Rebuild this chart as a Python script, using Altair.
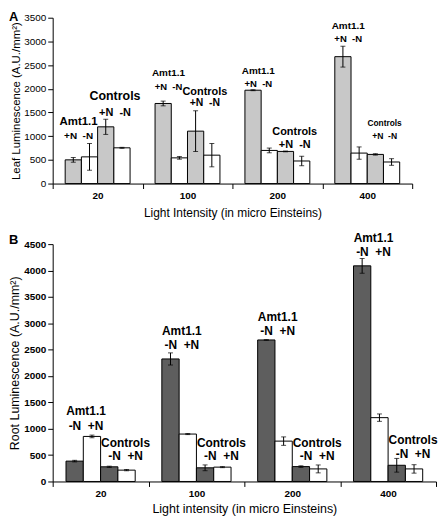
import altair as alt
import pandas as pd

light = ["20", "100", "200", "400"]
series = ["s1", "s2", "s3", "s4"]

# Panel A (leaf): per light level, bars = Amt1.1 +N, Amt1.1 -N, Controls +N, Controls -N
leaf_values = [[500, 563, 1197, 754], [1690, 542, 1106, 599], [1970, 699, 678, 476], [2678, 643, 615, 455]]
leaf_errors = [[50, 282, 160, 10], [50, 28, 430, 246], [10, 50, 8, 100], [220, 130, 15, 70]]
leaf_ticks = [0, 500, 1000, 1500, 2000, 2500, 3000, 3500]

# Panel B (root): per light level, bars = Amt1.1 -N, Amt1.1 +N, Controls -N, Controls +N
root_values = [[386, 854, 278, 215], [2323, 899, 259, 272], [2683, 765, 282, 238], [4088, 1210, 307, 238]]
root_errors = [[15, 25, 12, 12], [115, 10, 55, 10], [5, 80, 15, 75], [140, 70, 130, 80]]
root_ticks = [0, 500, 1000, 1500, 2000, 2500, 3000, 3500, 4000, 4500]

SP = "\u00a0\u00a0"
# annotation texts
leaf_ann_light = ["20", "20", "20", "20", "100", "100", "100", "100", "200", "200", "200", "200", "400", "400", "400", "400"]
leaf_ann_kind = ["amt", "amt", "ctrl", "ctrl"] * 4
leaf_ann_text = ["Amt1.1", "+N" + SP + "-N", "Controls", "+N" + SP + "-N"] * 4
leaf_ann_y = [1306, 1006, 1844, 1481, 2333, 2040, 1935, 1704, 2368, 2096, 1090, 817, 3332, 3060, 1278, 1006]
leaf_ann_size = [11.5, 10, 12.5, 11, 10, 9.5, 11, 10.5, 10, 9.6, 11, 11, 10, 9.6, 8.4, 8.6]

root_ann_light = leaf_ann_light
root_ann_kind = leaf_ann_kind
root_ann_text = ["Amt1.1", "-N" + SP + "+N", "Controls", "-N" + SP + "+N"] * 4
root_ann_y = [1342, 1060, 734, 484, 2843, 2579, 734, 490, 3125, 2843, 734, 490, 4613, 4349, 791, 527]
root_ann_size = [12] * 16

FONT = "Liberation Sans"


def make_panel(values, errors, fills, ticks, ann, dx_amt, dx_ctrl, width, height,
               xtitle, ytitle, ytitle_size, xtitle_size, xtitle_pad, ylabel_weight, letter, letter_y):
    rows = []
    for gi, g in enumerate(light):
        for si, s in enumerate(series):
            rows.append({"light": g, "series": s, "value": values[gi][si], "err": errors[gi][si]})
    df = pd.DataFrame(rows)

    X = alt.X("light:N", scale=alt.Scale(domain=light, paddingInner=0, paddingOuter=0),
              axis=alt.Axis(tickBand="extent", labelAngle=0, tickSize=5, labelPadding=2,
                            labelFontSize=10, labelFontWeight="bold", labelFont=FONT,
                            title=xtitle, titleFont=FONT, titleFontSize=xtitle_size,
                            titleFontWeight="normal", titlePadding=xtitle_pad,
                            domainColor="black", tickColor="black", labelColor="black",
                            titleColor="black"))
    XO = alt.XOffset("series:N", scale=alt.Scale(domain=series, paddingInner=0, paddingOuter=0.77))
    yaxis = alt.Axis(values=ticks, format="d", labelOverlap=False, grid=False, tickSize=5,
                     labelPadding=2, labelFontSize=10,
                     labelFont=FONT, labelFontWeight=ylabel_weight, title=ytitle, titleFont=FONT,
                     titleFontSize=ytitle_size, titleFontWeight="normal", titlePadding=2,
                     domainColor="black", tickColor="black", labelColor="black", titleColor="black")
    yscale = alt.Scale(domain=[ticks[0], ticks[-1]], nice=False)

    def Y(field):
        return alt.Y(field, scale=yscale, axis=yaxis)

    base = alt.Chart(df).transform_calculate(lo="datum.value - datum.err", hi="datum.value + datum.err")
    bars = base.mark_bar(stroke="black", strokeWidth=1).encode(
        x=X, xOffset=XO, y=Y("value:Q"),
        color=alt.Color("series:N", scale=alt.Scale(domain=series, range=fills), legend=None),
    )
    rules = base.mark_rule(color="black", strokeWidth=1).encode(
        x=X, xOffset=XO, y=Y("lo:Q"), y2="hi:Q")
    cap_lo = base.mark_tick(color="black", thickness=1, size=5).encode(
        x=X, xOffset=XO, y=Y("lo:Q"))
    cap_hi = base.mark_tick(color="black", thickness=1, size=5).encode(
        x=X, xOffset=XO, y=Y("hi:Q"))

    adf = pd.DataFrame(ann)
    amt = alt.Chart(adf[adf["kind"] == "amt"].assign(series="s2")).mark_text(
        font=FONT, fontWeight="bold", color="black", baseline="middle", align="center", dx=dx_amt
    ).encode(x=X, xOffset=XO, y=Y("y:Q"), text="text:N",
             size=alt.Size("size:Q", scale=None))
    ctrl = alt.Chart(adf[adf["kind"] == "ctrl"].assign(series="s4")).mark_text(
        font=FONT, fontWeight="bold", color="black", baseline="middle", align="center", dx=dx_ctrl
    ).encode(x=X, xOffset=XO, y=Y("y:Q"), text="text:N",
             size=alt.Size("size:Q", scale=None))
    let = alt.Chart(pd.DataFrame({"letter": [letter]})).mark_text(
        font=FONT, fontWeight="bold", fontSize=13, color="black", align="left", baseline="middle"
    ).encode(x=alt.value(-44), y=alt.value(letter_y), text="letter:N")

    return alt.layer(bars, rules, cap_lo, cap_hi, amt, ctrl, let).properties(width=width, height=height)


annA = {"light": leaf_ann_light, "kind": leaf_ann_kind, "text": leaf_ann_text, "y": leaf_ann_y, "size": leaf_ann_size}
annB = {"light": root_ann_light, "kind": root_ann_kind, "text": root_ann_text, "y": root_ann_y, "size": root_ann_size}

pA = make_panel(leaf_values, leaf_errors, ["#c8c8c8", "white", "#c8c8c8", "white"], leaf_ticks, annA,
                -11, -7, 362, 167, "Light Intensity (in micro Einsteins)",
                "Leaf Luminescence (A.U./mm²)", 11.5, 12, 7, "normal", "A", -1)
pB = make_panel(root_values, root_errors, ["#5e5e5e", "white", "#5e5e5e", "white"], root_ticks, annB,
                -6, -1, 386, 239, "Light intensity (in micro Einsteins)",
                "Root Luminescence (A.U./mm²)", 12.5, 12.5, 4, "bold", "B", -4)

chart = alt.vconcat(pA, pB, spacing=13).resolve_scale(
    x="independent", y="independent", xOffset="independent", color="independent"
).properties(padding={"left": 0, "top": 1, "right": 0, "bottom": 0}).configure_view(stroke=None)

chart.save("out.html", embed_options={"renderer": "svg", "actions": False})
